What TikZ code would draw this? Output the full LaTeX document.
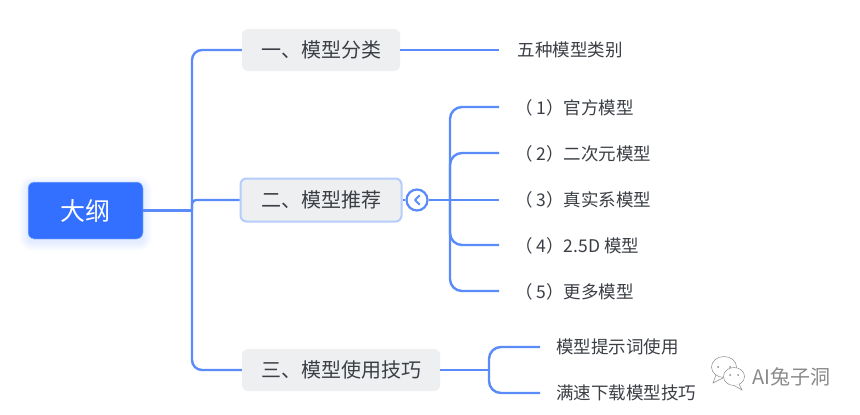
\documentclass[tikz,border=0pt]{standalone}
\usepackage{fontspec}
\setmainfont{Noto Sans CJK SC}
\definecolor{linkblue}{HTML}{5A8BF8}
\definecolor{rootblue}{HTML}{3370FF}
\definecolor{boxgray}{HTML}{EEEFF1}
\definecolor{selblue}{HTML}{B5CDFB}
\definecolor{txt}{HTML}{3B3F45}
\definecolor{wm}{HTML}{8A8A8A}
\newcommand{\lpar}{（\kern4pt}
\tikzset{
  x=1pt,y=-1pt,
  root/.style={fill=rootblue,draw=selblue,line width=.5pt,rounded corners=6pt,minimum width=115pt,minimum height=57pt,inner sep=0pt,text=white,font=\fontsize{25}{25}\selectfont},
  topic/.style={fill=boxgray,rounded corners=6pt,minimum height=42pt,inner sep=0pt,text=txt,font=\fontsize{20}{20}\selectfont},
  leaf/.style={inner sep=0pt,text=txt,anchor=west,font=\fontsize{17.5}{20}\selectfont},
  link/.style={draw=linkblue,line width=2.4pt,rounded corners=10pt},
  straight/.style={draw=linkblue,line width=2.4pt}
}
\begin{document}
\begin{tikzpicture}
\useasboundingbox (0,0) rectangle (860,415);
\fill[white] (0,0) rectangle (860,415);
% soft glow of the root
\foreach \g in {9,8,...,1}{
  \fill[rootblue,opacity=.012,rounded corners=\g+5] (28-\g,182-\g+3) rectangle (143+\g,239+\g+3);
}
\node[root] (root) at (85.5,210.5) {大纲};
\node[topic,minimum width=158pt] (t1) at (321,50) {一、模型分类};
\node[topic,minimum width=161pt,draw=selblue,line width=2pt,minimum height=43pt] (t2) at (321,200) {二、模型推荐};
\node[topic,minimum width=198pt] (t3) at (341,370) {三、模型使用技巧};
\node[circle,draw=linkblue,fill=white,line width=2.2pt,minimum size=21pt,inner sep=0pt] (tog) at (417,200) {};
\coordinate (e1) at (499,50);
\coordinate (e21) at (499,107);
\coordinate (e22) at (499,153);
\coordinate (e23) at (499,200);
\coordinate (e24) at (499,245);
\coordinate (e25) at (499,291);
\coordinate (e31) at (540,347);
\coordinate (e32) at (540,393);
\node[leaf] (l1) at (517.5,50) {五种模型类别};
\node[leaf] (l21) at (515,107.5) {\lpar 1）官方模型};
\node[leaf] (l22) at (515,153.5) {\lpar 2）二次元模型};
\node[leaf] (l23) at (515,199.5) {\lpar 3）真实系模型};
\node[leaf] (l24) at (515,245.5) {\lpar 4）2.5D 模型};
\node[leaf] (l25) at (515,291.5) {\lpar 5）更多模型};
\node[leaf] (l31) at (556,347) {模型提示词使用};
\node[leaf] (l32) at (556,393) {满速下载模型技巧};
% root links
\draw[straight,line width=3pt] (root.east) -- (192,210.5);
\draw[link] (192,210.5) -- (192,50) -- (t1.west);
\draw[link] (192,210.5) -- (192,370) -- (t3.west);
\draw[link,rounded corners=4pt] (192,210.5) -- (192,200) -- (t2.west);
% t1
\draw[straight] (t1.east) -- (e1);
% t2
\draw[straight] (t2.east) -- (tog.west);
\draw[straight] (tog.east) -- (e23);
\draw[link,rounded corners=12pt] (450,200) -- (450,107) -- (e21);
\draw[link,rounded corners=12pt] (450,200) -- (450,153) -- (e22);
\draw[link,rounded corners=12pt] (450,200) -- (450,245) -- (e24);
\draw[link,rounded corners=12pt] (450,200) -- (450,291) -- (e25);
% chevron
\draw[linkblue,line width=2pt,line cap=round,line join=round] (419.5,195.5) -- (415,200) -- (419.5,204.5);
% t3
\draw[straight] (t3.east) -- (489,370);
\draw[link,rounded corners=12pt] (489,370) -- (489,347) -- (e31);
\draw[link,rounded corners=12pt] (489,370) -- (489,393) -- (e32);
% watermark
\draw[wm,line width=.5pt,fill=white] (724,367) ellipse [x radius=12.5,y radius=10.5];
\draw[wm,line width=.5pt] (716,375) -- (713,383) -- (723,378);
\fill[wm] (718,367) circle (1) (730,367) circle (1);
\draw[wm,line width=.5pt,fill=white] (734,376.5) ellipse [x radius=10.5,y radius=9];
\draw[wm,line width=.5pt,fill=white] (739,384) -- (742,390) -- (734,385.5);
\fill[wm] (730,375) circle (1) (738,375) circle (1);
\node[inner sep=0pt,anchor=west,text=wm,font=\fontsize{20}{20}\selectfont] (wmt) at (752,377) {AI兔子洞};
\end{tikzpicture}
\end{document}
